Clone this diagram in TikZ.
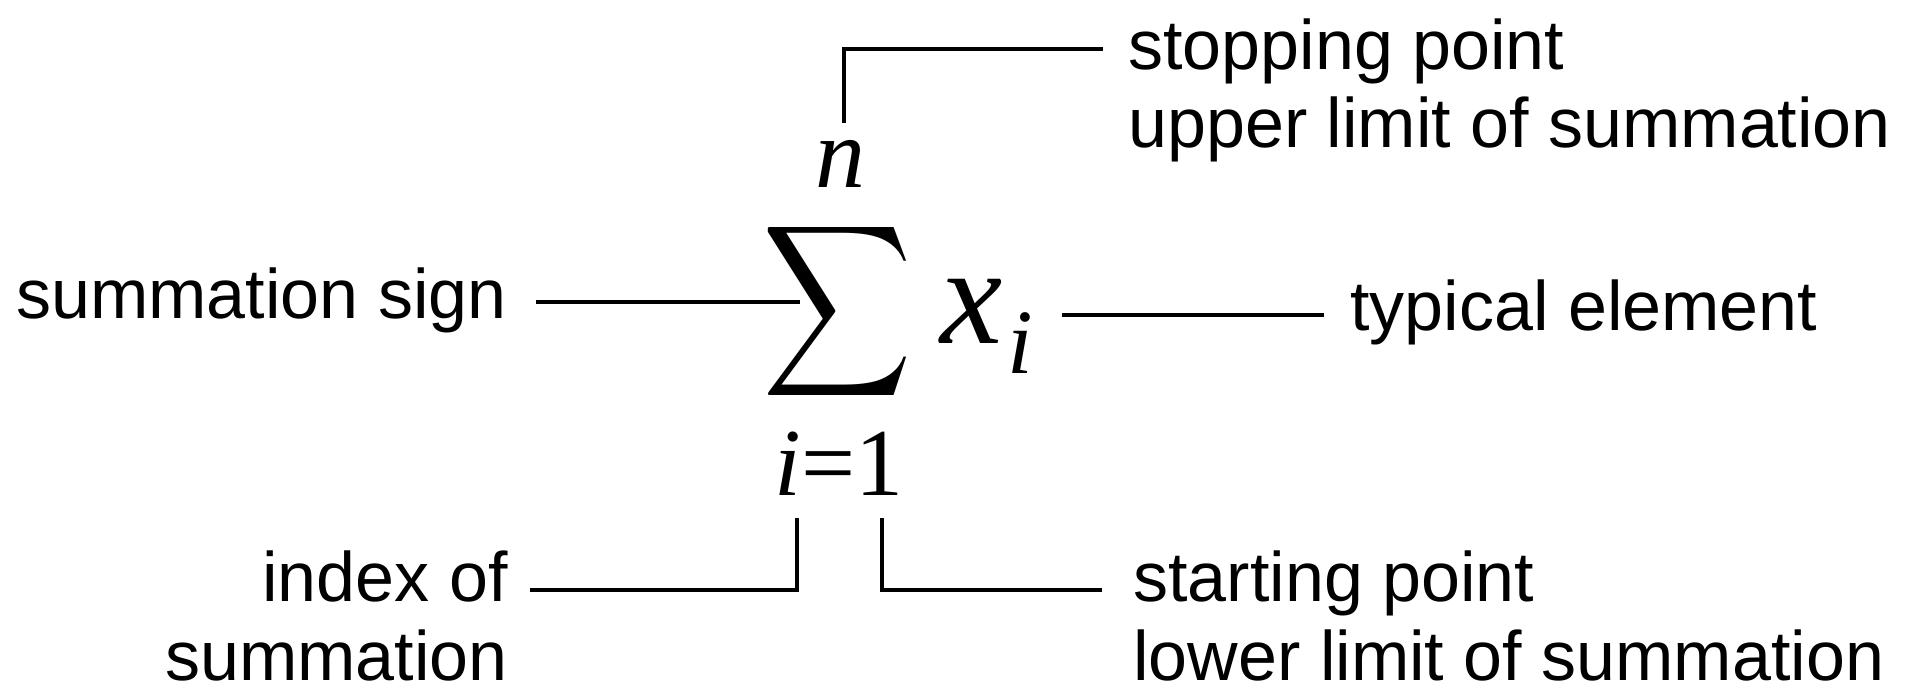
\documentclass[tikz,border=0pt]{standalone}
\usepackage{fontspec}
\usepackage{graphicx}
\setmainfont{Liberation Sans}
\newfontfamily\tms{Liberation Serif}
\tikzset{
  lbl/.style={inner sep=0pt, font=\fontsize{35}{42}\selectfont},
  conn/.style={line width=1.8pt, black},
  mth/.style={inner sep=0pt}
}
\begin{document}
\begin{tikzpicture}[x=0.5pt, y=-0.5pt]
\useasboundingbox (0,0) rectangle (1921,695);
% math
\node[mth, anchor=north west] (sig) at (762,215) {\resizebox*{75pt}{96pt}{$\displaystyle\sum$}};
\node[mth, anchor=base, font={\fontsize{50}{50}\selectfont\tms\itshape}] (n) at (840,188) {n};
\node[mth, anchor=base west, font={\fontsize{70}{70}\selectfont\tms\itshape}] (x) at (940,343) {x};
\node[mth, anchor=base west, font={\fontsize{46}{46}\selectfont\tms\itshape}] (sub) at (1007,373) {i};
\node[mth, anchor=base, font={\fontsize{48}{48}\selectfont\tms}] (low) at (839,495) {\textit{i}=1};
% labels
\node[lbl, anchor=base west] (stop1) at (1128,70) {stopping point};
\node[lbl, anchor=base west] (stop2) at (1128,148) {upper limit of summation};
\node[lbl, anchor=base east] (sumsign) at (507,318) {summation sign};
\node[lbl, anchor=base west] (typ) at (1350,330) {typical element};
\node[lbl, anchor=base east] (idx1) at (508,601) {index of};
\node[lbl, anchor=base east] (idx2) at (508,680) {summation};
\node[lbl, anchor=base west] (start1) at (1133,601) {starting point};
\node[lbl, anchor=base west] (start2) at (1133,680) {lower limit of summation};
% connector end points
\coordinate (nT) at (844,123);
\coordinate (nC) at (844,49);
\coordinate (stopE) at (1103,49);
\coordinate (sumL) at (536,302);
\coordinate (sumR) at (800,302);
\coordinate (typL) at (1062,315);
\coordinate (typR) at (1324,315);
\coordinate (iT) at (797,518);
\coordinate (iC) at (797,590);
\coordinate (idxE) at (530,590);
\coordinate (oT) at (882,518);
\coordinate (oC) at (882,590);
\coordinate (startE) at (1102,590);
% connectors
\draw[conn] (nT) -- (nC) -- (stopE);
\draw[conn] (sumL) -- (sumR);
\draw[conn] (typL) -- (typR);
\draw[conn] (iT) -- (iC) -- (idxE);
\draw[conn] (oT) -- (oC) -- (startE);
\end{tikzpicture}
\end{document}
